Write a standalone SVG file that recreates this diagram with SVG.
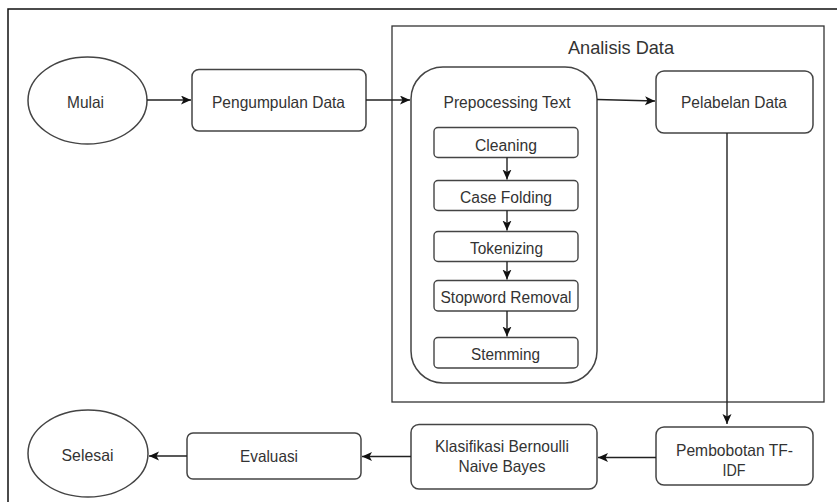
<svg xmlns="http://www.w3.org/2000/svg" width="837" height="502" viewBox="0 0 837 502">
<style>
text{font-family:"Liberation Sans",Arial,sans-serif;fill:#333;text-anchor:middle}
.n{font-size:16.5px}
.s{font-size:16px}
.t{font-size:18.5px}
.box{fill:#fff;stroke:#444;stroke-width:1.5}
.sub{fill:#fff;stroke:#444;stroke-width:1.4}
.c{fill:none;stroke:#222;stroke-width:1.4}
</style>
<defs>
<marker id="ah" markerUnits="userSpaceOnUse" markerWidth="12" markerHeight="10" refX="10" refY="4.5" orient="auto">
<path d="M0,0 L10,4.5 L0,9 L2.5,4.5 z" fill="#111"/>
</marker>
</defs>
<rect width="837" height="502" fill="#fff"/>
<g id="frame">
<path d="M8,510 L8,9 L840,9" fill="none" stroke="#111" stroke-width="1.5"/>
</g>
<g id="analisis">
<rect x="392" y="26" width="432" height="376" fill="none" stroke="#333" stroke-width="1.3"/>
<text class="t" x="621" y="54" textLength="106" lengthAdjust="spacingAndGlyphs">Analisis Data</text>
</g>
<g id="mulai">
<ellipse cx="87.5" cy="100.5" rx="59.5" ry="43.5" class="box"/>
<text class="n" x="85.5" y="108" textLength="37" lengthAdjust="spacingAndGlyphs">Mulai</text>
</g>
<g id="pengumpulan">
<rect x="192" y="69.5" width="174" height="61.5" rx="7" class="box"/>
<text class="n" x="278.5" y="108" textLength="133" lengthAdjust="spacingAndGlyphs">Pengumpulan Data</text>
</g>
<g id="prepocessing">
<rect x="411" y="67" width="186" height="316" rx="32" class="box"/>
<text class="n" x="507" y="108" textLength="127" lengthAdjust="spacingAndGlyphs">Prepocessing Text</text>
</g>
<g id="cleaning">
<rect x="434" y="127.5" width="144" height="30" rx="4" class="sub"/>
<text class="s" x="506" y="150.5" textLength="62" lengthAdjust="spacingAndGlyphs">Cleaning</text>
</g>
<g id="casefolding">
<rect x="434" y="180.5" width="144" height="30" rx="4" class="sub"/>
<text class="s" x="506" y="203" textLength="92" lengthAdjust="spacingAndGlyphs">Case Folding</text>
</g>
<g id="tokenizing">
<rect x="434" y="231.5" width="144" height="30" rx="4" class="sub"/>
<text class="s" x="506.5" y="253.5" textLength="73" lengthAdjust="spacingAndGlyphs">Tokenizing</text>
</g>
<g id="stopword">
<rect x="434" y="280.5" width="144" height="30.5" rx="4" class="sub"/>
<text class="s" x="506" y="303" textLength="131" lengthAdjust="spacingAndGlyphs">Stopword Removal</text>
</g>
<g id="stemming">
<rect x="434" y="337.5" width="144" height="30.5" rx="4" class="sub"/>
<text class="s" x="505.5" y="360" textLength="69" lengthAdjust="spacingAndGlyphs">Stemming</text>
</g>
<g id="pelabelan">
<rect x="656" y="71" width="157" height="62" rx="8" class="box"/>
<text class="n" x="734" y="108" textLength="106" lengthAdjust="spacingAndGlyphs">Pelabelan Data</text>
</g>
<g id="pembobotan">
<rect x="656" y="427" width="157" height="58" rx="8" class="box"/>
<text class="n" x="734.5" y="456" textLength="117" lengthAdjust="spacingAndGlyphs">Pembobotan TF-</text>
<text class="n" x="734" y="476" textLength="23" lengthAdjust="spacingAndGlyphs">IDF</text>
</g>
<g id="klasifikasi">
<rect x="411" y="424.5" width="186" height="64.5" rx="8" class="box"/>
<text class="n" x="502" y="452" textLength="134" lengthAdjust="spacingAndGlyphs">Klasifikasi Bernoulli</text>
<text class="n" x="502" y="472" textLength="87" lengthAdjust="spacingAndGlyphs">Naive Bayes</text>
</g>
<g id="evaluasi">
<rect x="187" y="433" width="174" height="46" rx="6" class="box"/>
<text class="n" x="269" y="462" textLength="58" lengthAdjust="spacingAndGlyphs">Evaluasi</text>
</g>
<g id="selesai">
<ellipse cx="88" cy="453.5" rx="60" ry="43.5" class="box"/>
<text class="n" x="87.5" y="461" textLength="52" lengthAdjust="spacingAndGlyphs">Selesai</text>
</g>
<g id="connectors">
<line x1="147" y1="100" x2="191" y2="100" class="c" marker-end="url(#ah)"/>
<line x1="366" y1="100" x2="410" y2="100" class="c" marker-end="url(#ah)"/>
<line x1="597" y1="99.5" x2="655" y2="101" class="c" marker-end="url(#ah)"/>
<line x1="507" y1="157.5" x2="507" y2="179.5" class="c" marker-end="url(#ah)"/>
<line x1="507" y1="210.5" x2="507" y2="230.5" class="c" marker-end="url(#ah)"/>
<line x1="507" y1="261.5" x2="507" y2="279.5" class="c" marker-end="url(#ah)"/>
<line x1="507" y1="311" x2="507" y2="336.5" class="c" marker-end="url(#ah)"/>
<line x1="727" y1="133" x2="727" y2="424" class="c" marker-end="url(#ah)"/>
<line x1="656" y1="457.5" x2="598" y2="457.5" class="c" marker-end="url(#ah)"/>
<line x1="411" y1="456.5" x2="362" y2="456.5" class="c" marker-end="url(#ah)"/>
<line x1="187" y1="456" x2="149" y2="456" class="c" marker-end="url(#ah)"/>
</g>
</svg>
